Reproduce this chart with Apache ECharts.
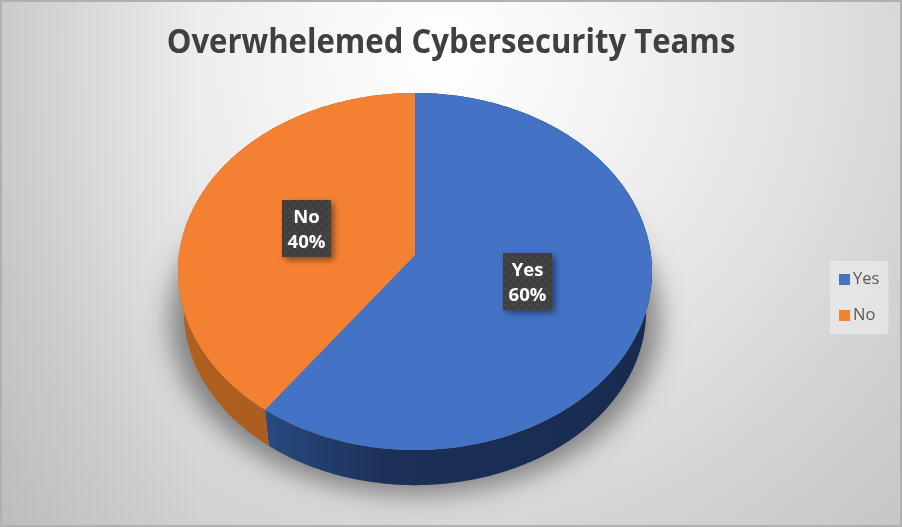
<!DOCTYPE html>
<html><head><meta charset="utf-8">
<style>html,body{margin:0;padding:0;background:#fff}#c{width:902px;height:527px}</style>
<script src="https://cdn.jsdelivr.net/npm/echarts@6/dist/echarts.min.js"></script>
</head><body><div id="c"></div>
<script>
var titleText = 'Overwhelemed Cybersecurity Teams';
var categories = ['Yes', 'No'];
var values = [60, 40];
var topColors = ['#4472c4', '#f48132'];

var FONT = '"Open Sans","Noto Sans",sans-serif';
var total = values.reduce(function (a, b) { return a + b; }, 0);
var CX = 415, CY = 255, A = 236, B = 177, K = 0.0924, S = 0.975, DY = 40;

function topPt(deg) {
  var t = deg * Math.PI / 180, u = Math.sin(t), w = -Math.cos(t), d = 1 - K * w;
  return [CX + A * u / d, CY + B * w / d];
}
function lowPt(deg) {
  var p = topPt(deg);
  return [CX + (p[0] - CX) * S, CY + (p[1] - CY) * S + DY];
}
function shadowPt(deg) {
  var p = lowPt(deg);
  return [CX + (p[0] - CX) * 1.06 - 3000, p[1] + 9];
}
function arc(fn, a, b) {
  var pts = [], n = Math.max(2, Math.ceil(Math.abs(b - a) * 1.5));
  for (var i = 0; i <= n; i++) pts.push(fn(a + (b - a) * i / n));
  return pts;
}
var dots = document.createElement('canvas');
dots.width = 8; dots.height = 8;
(function () {
  var g = dots.getContext('2d');
  g.fillStyle = '#404040'; g.fillRect(0, 0, 8, 8);
  g.fillStyle = '#4c4c4c';
  g.fillRect(0, 0, 2, 2); g.fillRect(4, 4, 2, 2);
})();
var sideFills = [
  { type: 'linear', x: 0, y: 0, x2: 1, y2: 0, colorStops: [
    { offset: 0, color: '#284a80' }, { offset: 0.3, color: '#1c3159' }, { offset: 1, color: '#182a4e' }] },
  { type: 'linear', x: 0, y: 0, x2: 1, y2: 0, colorStops: [
    { offset: 0, color: '#b0601f' }, { offset: 1, color: '#a25a22' }] }
];
var labelBoxes = [[503, 253], [282, 200]];

var sliceSeries = categories.map(function (name, idx) {
  var before = values.slice(0, idx).reduce(function (a, b) { return a + b; }, 0);
  var a0 = before / total * 360;
  return {
    type: 'custom', name: name, coordinateSystem: 'none', silent: true,
    itemStyle: { color: topColors[idx] },
    data: [[values[idx]]],
    renderItem: function (params, api) {
      var a1 = a0 + api.value(0) / total * 360;
      var rim = arc(topPt, a0, a1);
      var low = arc(lowPt, a0, a1).reverse();
      var box = labelBoxes[idx];
      return { type: 'group', children: [
        { type: 'polygon', z2: 2, shape: { points: rim.concat(low) }, style: { fill: sideFills[idx] } },
        { type: 'polygon', z2: 5, shape: { points: [[CX, CY]].concat(rim) }, style: { fill: topColors[idx] } },
        { type: 'rect', z2: 8, shape: { x: box[0], y: box[1], width: 49, height: 57 },
          style: { fill: { image: dots, repeat: 'repeat' }, shadowBlur: 6, shadowOffsetX: 3, shadowOffsetY: 3, shadowColor: 'rgba(0,0,0,0.45)' } },
        { type: 'text', z2: 9, x: box[0] + 24.5, y: box[1] + 30,
          style: { text: name + '\n' + Math.round(api.value(0) / total * 100) + '%', fill: '#fff',
            font: 'bold 18.5px ' + FONT, lineHeight: 25, align: 'center', verticalAlign: 'middle', textAlign: 'center', textVerticalAlign: 'middle' } }
      ] };
    }
  };
});

var shadowSeries = {
  type: 'custom', name: 'shadow', coordinateSystem: 'none', silent: true, data: [[1]],
  renderItem: function () {
    return { type: 'polygon', z2: 0, shape: { points: arc(shadowPt, 0, 360) },
      style: { fill: '#000', shadowBlur: 26, shadowOffsetX: 3000, shadowColor: 'rgba(0,0,0,0.42)' } };
  }
};

var chart = echarts.init(document.getElementById('c'), null, { renderer: 'canvas' });
chart.setOption({
  animation: false,
  backgroundColor: { type: 'radial', x: 0.49, y: 0.1, r: 1.25, colorStops: [
    { offset: 0, color: '#ffffff' }, { offset: 0.25, color: '#f4f4f4' }, { offset: 0.55, color: '#e2e2e2' },
    { offset: 0.75, color: '#d4d4d4' }, { offset: 1, color: '#c6c6c6' }] },
  legend: { data: categories, orient: 'vertical', left: 830, top: 261, icon: 'rect',
    itemWidth: 11, itemHeight: 11, itemGap: 19, padding: [10, 9, 10, 9],
    backgroundColor: 'rgba(235,235,235,0.7)',
    textStyle: { fontFamily: FONT, fontSize: 16.5, color: '#595959', padding: [0, 0, 0, -2] } },
  graphic: [
    { type: 'rect', z: 0, silent: true, shape: { x: 0, y: 0, width: 200, height: 527 },
      style: { fill: { type: 'linear', x: 0, y: 0, x2: 1, y2: 0, colorStops: [
        { offset: 0, color: 'rgba(150,150,150,0.22)' }, { offset: 1, color: 'rgba(150,150,150,0)' }] } } },
    { type: 'text', z: 50, silent: true, x: 451, y: 43, scaleX: 0.928,
      style: { text: titleText, fill: '#404040', font: 'bold 33.5px ' + FONT, textAlign: 'center', textVerticalAlign: 'middle', align: 'center', verticalAlign: 'middle' } },
    { type: 'rect', z: 100, silent: true, shape: { x: 1, y: 1, width: 900, height: 525 },
      style: { fill: 'none', stroke: '#b0b0b0', lineWidth: 2 } }
  ],
  series: [shadowSeries].concat(sliceSeries)
});
</script></body></html>
